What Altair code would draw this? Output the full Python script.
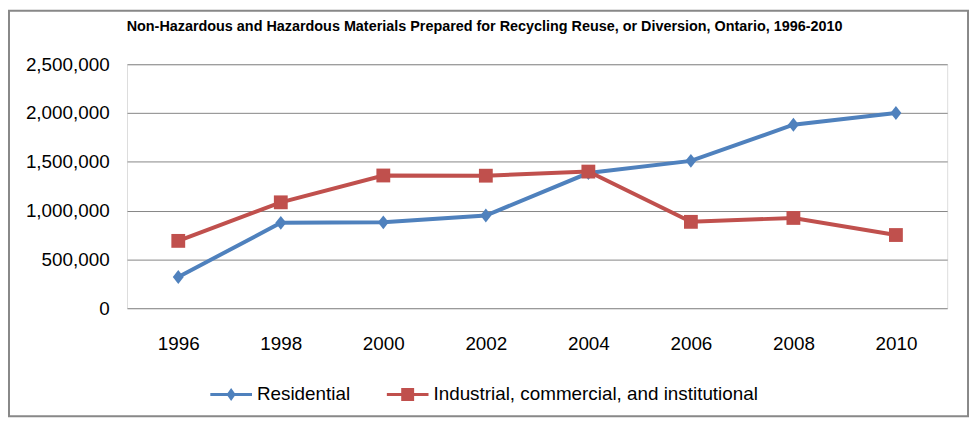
import altair as alt
import pandas as pd

years = ["1996", "1998", "2000", "2002", "2004", "2006", "2008", "2010"]
residential = [320000, 875000, 880000, 950000, 1385000, 1510000, 1880000, 2000000]
ici = [690000, 1085000, 1360000, 1358000, 1400000, 885000, 925000, 750000]
series = ["Residential", "Industrial, commercial, and institutional"]
colors = ["#4F81BD", "#C0504D"]
y_ticks = [0, 500000, 1000000, 1500000, 2000000, 2500000]
title_text = "Non-Hazardous and Hazardous Materials Prepared for Recycling Reuse, or Diversion, Ontario, 1996-2010"

rows = []
for y, v in zip(years, residential):
    rows.append({"Year": y, "Value": v, "Series": series[0]})
for y, v in zip(years, ici):
    rows.append({"Year": y, "Value": v, "Series": series[1]})
df = pd.DataFrame(rows)

FONT = "Liberation Sans"
diamond = "M0,-1.2L0.95,0L0,1.2L-0.95,0Z"
square = "M-1.2,-1.2H1.2V1.2H-1.2Z"
leg_res = "M-1,-0.075H1V0.075H-1Z M0,-0.31L0.22,0L0,0.31L-0.22,0Z"
leg_ici = "M-1,-0.075H1V0.075H-1Z M-0.31,-0.31H0.31V0.31H-0.31Z"

x_enc = alt.X("Year:O", sort=years, scale=alt.Scale(type="point", padding=0.5),
              axis=alt.Axis(title=None, labelAngle=0, domain=False, ticks=False,
                            labelPadding=27, labelFontSize=19, labelFont=FONT,
                            labelColor="#000000", grid=False))
y_enc = alt.Y("Value:Q", scale=alt.Scale(domain=[0, 2500000], nice=False),
              axis=alt.Axis(title=None, values=y_ticks, format=",d", domain=False,
                            ticks=False, labelPadding=18, labelFontSize=19,
                            labelFont=FONT, labelColor="#000000", grid=True,
                            gridColor="#868686", gridWidth=1))
color_scale = alt.Scale(domain=series, range=colors)
legend_shape_scale = alt.Scale(domain=series, range=[leg_res, leg_ici])


def legend_props(value, lx):
    return dict(title=None, orient="none", direction="horizontal", values=[value],
                legendX=lx, legendY=312, labelFont=FONT, labelFontSize=19,
                labelColor="#000000", labelOffset=5, labelLimit=600,
                symbolSize=1764, symbolStrokeWidth=0, symbolOpacity=1)


base = alt.Chart(df)
lines = base.mark_line(strokeWidth=4).encode(
    x=x_enc, y=y_enc,
    color=alt.Color("Series:N", sort=series, scale=color_scale, legend=None))
points = base.mark_point(filled=True, opacity=1, size=135).encode(
    x=x_enc, y=y_enc,
    color=alt.Color("Series:N", sort=series, scale=color_scale, legend=None),
    shape=alt.Shape("Series:N", sort=series,
                    scale=alt.Scale(domain=series, range=[diamond, square]), legend=None),
)
legend_a = base.transform_filter("false").mark_point(
    filled=True, opacity=1, color=colors[0]).encode(
    x=x_enc, y=y_enc,
    shape=alt.Shape("Series:N", sort=series, scale=legend_shape_scale,
                    legend=alt.Legend(**legend_props(series[0], 84))),
)
legend_b = base.transform_filter("false").mark_point(
    filled=True, opacity=1, color=colors[1]).encode(
    x=x_enc, y=y_enc,
    shape=alt.Shape("Series:N", sort=series, scale=legend_shape_scale,
                    legend=alt.Legend(**legend_props(series[1], 262))),
)

frame = alt.Chart(alt.Data(values=[{"k": 1}])).mark_rect(
    fill="transparent", stroke="#888888", strokeWidth=2
).encode(x=alt.value(-119), x2=alt.value(848), y=alt.value(-54), y2=alt.value(355))

chart = alt.layer(lines, points, legend_a, legend_b, frame).resolve_scale(
    shape="independent"
).properties(
    width=827, height=246,
    title=alt.TitleParams(title_text, font=FONT, fontSize=14.5, fontWeight="bold",
                          color="#000000", anchor="middle", frame="group",
                          dx=-53, dy=41, offset=5, baseline="alphabetic"),
    autosize=alt.AutoSizeParams(type="none"),
    padding={"left": 120, "top": 55, "right": 23, "bottom": 110},
).configure_view(stroke=None).configure(background="white")

chart.save("out.html", embed_options={"renderer": "svg", "actions": False})
